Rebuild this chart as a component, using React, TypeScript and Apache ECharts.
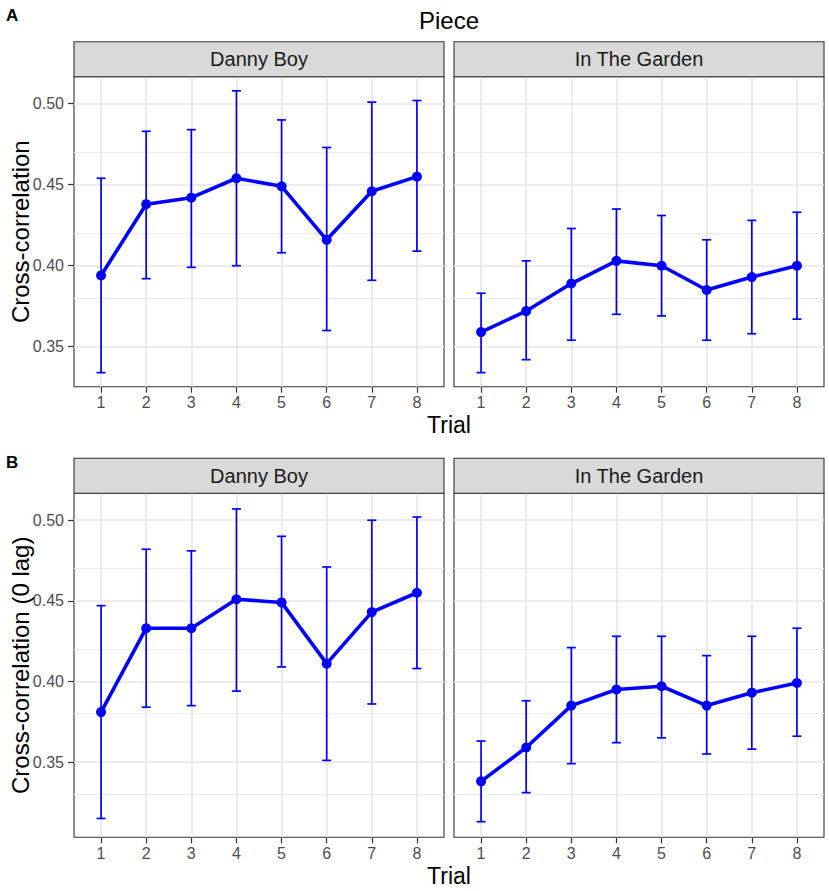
import React, { useEffect, useRef } from "react";
import * as echarts from "echarts";

// ---- Data ----
const trials = [1, 2, 3, 4, 5, 6, 7, 8];

// Panel A: Cross-correlation
const aDannyMean = [0.394, 0.438, 0.442, 0.454, 0.449, 0.416, 0.446, 0.455];
const aDannyLow = [0.334, 0.392, 0.399, 0.400, 0.408, 0.360, 0.391, 0.409];
const aDannyHigh = [0.454, 0.483, 0.484, 0.508, 0.490, 0.473, 0.501, 0.502];
const aGardenMean = [0.359, 0.372, 0.389, 0.403, 0.400, 0.385, 0.393, 0.400];
const aGardenLow = [0.334, 0.342, 0.354, 0.370, 0.369, 0.354, 0.358, 0.367];
const aGardenHigh = [0.383, 0.403, 0.423, 0.435, 0.431, 0.416, 0.428, 0.433];

// Panel B: Cross-correlation (0 lag)
const bDannyMean = [0.381, 0.433, 0.433, 0.451, 0.449, 0.411, 0.443, 0.455];
const bDannyLow = [0.315, 0.384, 0.385, 0.394, 0.409, 0.351, 0.386, 0.408];
const bDannyHigh = [0.447, 0.482, 0.481, 0.507, 0.490, 0.471, 0.500, 0.502];
const bGardenMean = [0.338, 0.359, 0.385, 0.395, 0.397, 0.385, 0.393, 0.399];
const bGardenLow = [0.313, 0.331, 0.349, 0.362, 0.365, 0.355, 0.358, 0.366];
const bGardenHigh = [0.363, 0.388, 0.421, 0.428, 0.428, 0.416, 0.428, 0.433];

const pieces = ["Danny Boy", "In The Garden"];
const yTicks = [0.35, 0.4, 0.45, 0.5];
const yMinorA = [0.375, 0.425, 0.475];
const yMinorB = [0.325, 0.375, 0.425, 0.475];
const rowTitles = ["Cross-correlation", "Cross-correlation (0 lag)"];
const rowTags = ["A", "B"];

const FONT = "'Liberation Sans', Arial, Helvetica, sans-serif";
const BLUE = "#0000FF";

export default function App() {
  const ref = useRef<HTMLDivElement>(null);

  useEffect(() => {
    if (!ref.current) return;
    const chart = echarts.init(ref.current, null, { renderer: "svg" });

    const rows = [
      {
        panels: [
          { mean: aDannyMean, low: aDannyLow, high: aDannyHigh },
          { mean: aGardenMean, low: aGardenLow, high: aGardenHigh },
        ],
        minor: yMinorA,
      },
      {
        panels: [
          { mean: bDannyMean, low: bDannyLow, high: bDannyHigh },
          { mean: bGardenMean, low: bGardenLow, high: bGardenHigh },
        ],
        minor: yMinorB,
      },
    ];

    // layout
    const colLeft = [74, 454];
    const colWidth = 370;
    const rowTop = [76.7, 493.3];
    const rowHeight = [310, 344];
    const stripH = 35;

    const grids: any[] = [];
    const xAxes: any[] = [];
    const yAxes: any[] = [];
    const series: any[] = [];
    const graphics: any[] = [];

    rows.forEach((row, r) => {
      const lows = row.panels.flatMap((p) => p.low);
      const highs = row.panels.flatMap((p) => p.high);
      const dmin = Math.min(...lows);
      const dmax = Math.max(...highs);
      const pad = (dmax - dmin) * 0.05;
      const ymin = dmin - pad;
      const ymax = dmax + pad;

      row.panels.forEach((p, c) => {
        const idx = grids.length;
        grids.push({
          left: colLeft[c],
          top: rowTop[r],
          width: colWidth,
          height: rowHeight[r],
          show: true,
          backgroundColor: "#FFFFFF",
          borderColor: "#333333",
          borderWidth: 1.1,
          containLabel: false,
          outerBoundsMode: "none",
        });
        xAxes.push({
          gridIndex: idx,
          type: "value",
          min: 0.4,
          max: 8.6,
          axisLine: { show: false },
          axisTick: {
            show: true,
            customValues: trials,
            length: 6,
            lineStyle: { color: "#333333", width: 1.2 },
          },
          axisLabel: {
            customValues: trials,
            margin: 8,
            fontSize: 16,
            color: "#4D4D4D",
            fontFamily: FONT,
          },
          splitLine: { show: false },
          minorSplitLine: { show: false },
        });
        yAxes.push({
          gridIndex: idx,
          type: "value",
          min: ymin,
          max: ymax,
          axisLine: { show: false },
          axisTick: {
            show: c === 0,
            customValues: yTicks,
            length: 6,
            lineStyle: { color: "#333333", width: 1.2 },
          },
          axisLabel: {
            show: c === 0,
            customValues: yTicks,
            margin: 10,
            fontSize: 16,
            color: "#4D4D4D",
            fontFamily: FONT,
            formatter: (v: number) => v.toFixed(2),
          },
          splitLine: { show: false },
          minorSplitLine: { show: false },
        });

        const gridLines: any[] = [];
        row.minor.forEach((v) =>
          gridLines.push({ yAxis: v, lineStyle: { color: "#EBEBEB", width: 1.1, type: "solid" } })
        );
        yTicks.forEach((v) =>
          gridLines.push({ yAxis: v, lineStyle: { color: "#E6E6E6", width: 1.6, type: "solid" } })
        );
        trials.forEach((v) =>
          gridLines.push({ xAxis: v, lineStyle: { color: "#E6E6E6", width: 1.6, type: "solid" } })
        );

        series.push({
          type: "custom",
          xAxisIndex: idx,
          yAxisIndex: idx,
          z: 3,
          silent: true,
          data: trials.map((t, j) => [t, p.low[j], p.high[j]]),
          encode: { x: 0, y: [1, 2] },
          renderItem: (params: any, api: any) => {
            const x = api.value(0);
            const lo = api.coord([x, api.value(1)]);
            const hi = api.coord([x, api.value(2)]);
            const hw = api.size([0.1, 0])[0];
            const style = { stroke: BLUE, lineWidth: 1.7 };
            return {
              type: "group",
              children: [
                { type: "line", shape: { x1: lo[0], y1: lo[1], x2: hi[0], y2: hi[1] }, style },
                { type: "line", shape: { x1: hi[0] - hw, y1: hi[1], x2: hi[0] + hw, y2: hi[1] }, style },
                { type: "line", shape: { x1: lo[0] - hw, y1: lo[1], x2: lo[0] + hw, y2: lo[1] }, style },
              ],
            };
          },
        });

        series.push({
          type: "line",
          xAxisIndex: idx,
          yAxisIndex: idx,
          z: 4,
          silent: true,
          data: trials.map((t, j) => [t, p.mean[j]]),
          symbol: "circle",
          symbolSize: 10,
          itemStyle: { color: BLUE },
          lineStyle: { color: BLUE, width: 3.6 },
          markLine: {
            z: 1,
            silent: true,
            animation: false,
            symbol: ["none", "none"],
            label: { show: false },
            emphasis: { disabled: true },
            data: gridLines,
          },
        });

        // strip
        graphics.push({
          type: "rect",
          shape: { x: colLeft[c], y: rowTop[r] - stripH, width: colWidth, height: stripH },
          style: { fill: "#D9D9D9", stroke: "#333333", lineWidth: 1.1 },
          z: 10,
        });
        graphics.push({
          type: "text",
          x: colLeft[c] + colWidth / 2,
          y: rowTop[r] - stripH / 2,
          style: {
            text: pieces[c],
            fontSize: 20,
            fontFamily: FONT,
            fill: "#1A1A1A",
            align: "center",
            verticalAlign: "middle",
          },
          z: 11,
        });
      });

      // y-axis title
      graphics.push({
        type: "text",
        x: 20,
        y: rowTop[r] + rowHeight[r] / 2,
        rotation: Math.PI / 2,
        style: {
          text: rowTitles[r],
          fontSize: 24,
          fontFamily: FONT,
          fill: "#000000",
          align: "center",
          verticalAlign: "middle",
        },
        z: 11,
      });
      // x-axis title
      graphics.push({
        type: "text",
        x: 449,
        y: rowTop[r] + rowHeight[r] + 38.5,
        style: {
          text: "Trial",
          fontSize: 23,
          fontFamily: FONT,
          fill: "#000000",
          align: "center",
          verticalAlign: "middle",
        },
        z: 11,
      });
      // panel tag
      graphics.push({
        type: "text",
        x: 6,
        y: r === 0 ? 15 : 462.5,
        style: {
          text: rowTags[r],
          fontSize: 17,
          fontWeight: "bold",
          fontFamily: FONT,
          fill: "#000000",
          align: "left",
          verticalAlign: "middle",
        },
        z: 11,
      });
    });

    graphics.push({
      type: "text",
      x: 449,
      y: 20,
      style: {
        text: "Piece",
        fontSize: 24,
        fontFamily: FONT,
        fill: "#000000",
        align: "center",
        verticalAlign: "middle",
      },
      z: 11,
    });

    chart.setOption({
      animation: false,
      backgroundColor: "#FFFFFF",
      grid: grids,
      xAxis: xAxes,
      yAxis: yAxes,
      series,
      graphic: { elements: graphics },
    });

    return () => chart.dispose();
  }, []);

  return (
    <div
      ref={ref}
      style={{ position: "fixed", left: 0, top: 0, width: 829, height: 891 }}
    />
  );
}
